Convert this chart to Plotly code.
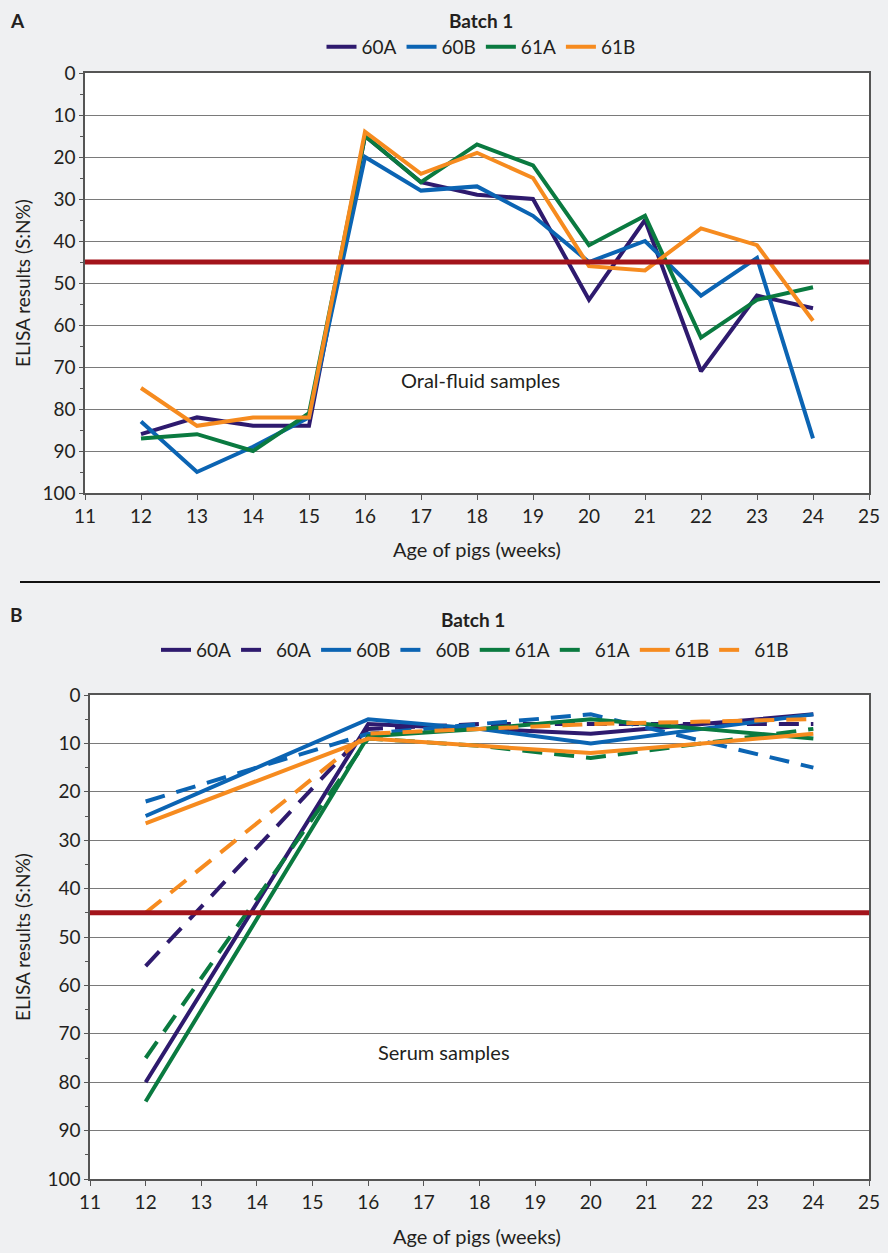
import plotly.graph_objects as go

# ---------------- data ----------------
weeks_oral = [12, 13, 14, 15, 16, 17, 18, 19, 20, 21, 22, 23, 24]
oral_60A = [86, 82, 84, 84, 15, 26, 29, 30, 54, 35, 71, 53, 56]
oral_60B = [83, 95, 89, 82, 20, 28, 27, 34, 45, 40, 53, 44, 87]
oral_61A = [87, 86, 90, 81, 15, 26, 17, 22, 41, 34, 63, 54, 51]
oral_61B = [75, 84, 82, 82, 14, 24, 19, 25, 46, 47, 37, 41, 59]

weeks_serum = [12, 16, 18, 20, 22, 24]
serum_60A_solid = [80, 6, 7, 8, 6, 4]
serum_60A_dash = [56, 7, 6, 6, 6, 6]
serum_60B_solid = [25, 5, 7, 10, 7, 4]
serum_60B_dash = [22, 8, 6, 4, 9.5, 15]
serum_61A_solid = [84, 8.5, 7, 5, 7, 9]
serum_61A_dash = [75, 9, 10.5, 13, 10, 7]
serum_61B_solid = [26.5, 9, 10.5, 12, 10, 8]
serum_61B_dash = [45, 8, 7, 6, 5.5, 5]

cutoff = 45
y_ticks = [0, 10, 20, 30, 40, 50, 60, 70, 80, 90, 100]
x_ticks = list(range(11, 26))

# ---------------- style ----------------
W, H = 888, 1253
BG = "#eff0f2"
C_PURPLE = "#2e1a6e"
C_BLUE = "#0b64b3"
C_GREEN = "#0a7a40"
C_ORANGE = "#f68b1f"
C_RED = "#a3141b"
TXT = "#231f20"
FONT = "Lato"
LW = 4


def px_x(px):
    return px / W


def px_y(py):
    return 1 - py / H


fig = go.Figure()

oral_series = [("60A", oral_60A, C_PURPLE), ("60B", oral_60B, C_BLUE),
               ("61A", oral_61A, C_GREEN), ("61B", oral_61B, C_ORANGE)]
for name, vals, col in oral_series:
    fig.add_trace(go.Scatter(x=weeks_oral, y=vals, name=name, mode="lines",
                             line=dict(color=col, width=LW),
                             xaxis="x", yaxis="y", legend="legend"))

serum_series = [("60A", serum_60A_solid, C_PURPLE, "solid"),
                ("60A", serum_60A_dash, C_PURPLE, "dash"),
                ("60B", serum_60B_solid, C_BLUE, "solid"),
                ("60B", serum_60B_dash, C_BLUE, "dash"),
                ("61A", serum_61A_solid, C_GREEN, "solid"),
                ("61A", serum_61A_dash, C_GREEN, "dash"),
                ("61B", serum_61B_solid, C_ORANGE, "solid"),
                ("61B", serum_61B_dash, C_ORANGE, "dash")]
for name, vals, col, dash in serum_series:
    fig.add_trace(go.Scatter(x=weeks_serum, y=vals, name=name, mode="lines",
                             line=dict(color=col, width=LW,
                                       dash="20px,12px" if dash == "dash" else "solid"),
                             xaxis="x2", yaxis="y2", legend="legend2"))

axis_font = dict(family=FONT, size=19, color=TXT)


def xaxis(domain, anchor):
    return dict(domain=domain, anchor=anchor, range=[11, 25], tickmode="array",
                tickvals=x_ticks, ticktext=[str(t) for t in x_ticks],
                ticks="outside", ticklen=5, tickcolor="#555", showgrid=False,
                showline=True, linecolor="#555", linewidth=1.5, mirror=True,
                zeroline=False, tickfont=axis_font, fixedrange=True, automargin=False)


def yaxis(domain, anchor):
    return dict(domain=domain, anchor=anchor, range=[100, 0], tickmode="array",
                tickvals=y_ticks, ticktext=[str(t) for t in y_ticks],
                ticks="outside", ticklen=4, tickcolor="#555",
                minor=dict(dtick=5, ticks="outside", ticklen=3, tickcolor="#555", showgrid=False),
                showgrid=True, gridcolor="#7a7a7a", gridwidth=1,
                showline=True, linecolor="#555", linewidth=1.5, mirror=True,
                zeroline=False, tickfont=axis_font, fixedrange=True, automargin=False)


leg_font = dict(family=FONT, size=19, color=TXT)

fig.update_layout(
    width=W, height=H,
    margin=dict(l=0, r=0, t=0, b=0, pad=0, autoexpand=False),
    paper_bgcolor=BG,
    plot_bgcolor="#ffffff",
    font=dict(family=FONT, size=18, color=TXT),
    xaxis=xaxis([px_x(85), px_x(869)], "y"),
    yaxis=yaxis([px_y(493), px_y(73)], "x"),
    xaxis2=xaxis([px_x(90), px_x(869)], "y2"),
    yaxis2=yaxis([px_y(1179), px_y(695)], "x2"),
    legend=dict(orientation="h", x=px_x(481), xanchor="center", y=px_y(47), yanchor="middle",
                bgcolor="rgba(0,0,0,0)", font=leg_font,
                itemwidth=30, tracegroupgap=0, itemclick=False),
    legend2=dict(orientation="h", x=px_x(475), xanchor="center", y=px_y(650), yanchor="middle",
                 bgcolor="rgba(0,0,0,0)", font=leg_font,
                 itemwidth=30, tracegroupgap=0, itemclick=False),
    showlegend=True,
)

# cut-off lines
for xr, yr in [("x", "y"), ("x2", "y2")]:
    fig.add_shape(type="line", xref=xr, yref=yr, x0=11, x1=25, y0=cutoff, y1=cutoff,
                  line=dict(color=C_RED, width=5), layer="above")

# separator between panels
fig.add_shape(type="line", xref="paper", yref="paper", x0=px_x(20), x1=px_x(880),
              y0=px_y(582), y1=px_y(582), line=dict(color="#111", width=2))

annos = [
    dict(text="<b>A</b>", x=px_x(8), y=px_y(20), xanchor="left", size=19),
    dict(text="<b>B</b>", x=px_x(8), y=px_y(615), xanchor="left", size=19),
    dict(text="<b>Batch 1</b>", x=px_x(481), y=px_y(20), xanchor="center", size=19),
    dict(text="<b>Batch 1</b>", x=px_x(473), y=px_y(620), xanchor="center", size=19),
    dict(text="Age of pigs (weeks)", x=px_x(477), y=px_y(549), xanchor="center", size=20),
    dict(text="Age of pigs (weeks)", x=px_x(477), y=px_y(1236), xanchor="center", size=20),
]
for a in annos:
    fig.add_annotation(text=a["text"], x=a["x"], y=a["y"], xref="paper", yref="paper",
                       xanchor=a["xanchor"], yanchor="middle", showarrow=False,
                       font=dict(family=FONT, size=a["size"], color=TXT))

for yc in [283, 937]:
    fig.add_annotation(text="ELISA results (S:N%)", x=px_x(22), y=px_y(yc), xref="paper",
                       yref="paper", xanchor="center", yanchor="middle", textangle=-90,
                       showarrow=False, font=dict(family=FONT, size=19, color=TXT))

fig.add_annotation(text="Oral-fluid samples", x=18.07, y=73, xref="x", yref="y",
                   showarrow=False, font=dict(family=FONT, size=20, color=TXT))
fig.add_annotation(text="Serum samples", x=17.36, y=73.8, xref="x2", yref="y2",
                   showarrow=False, font=dict(family=FONT, size=20, color=TXT))

fig.write_html(
    "out.html",
    config={"displayModeBar": False},
    post_script="document.body.style.margin='0';document.body.style.padding='0';"
                "document.documentElement.style.margin='0';"
                "document.body.style.background='%s';" % BG,
)
